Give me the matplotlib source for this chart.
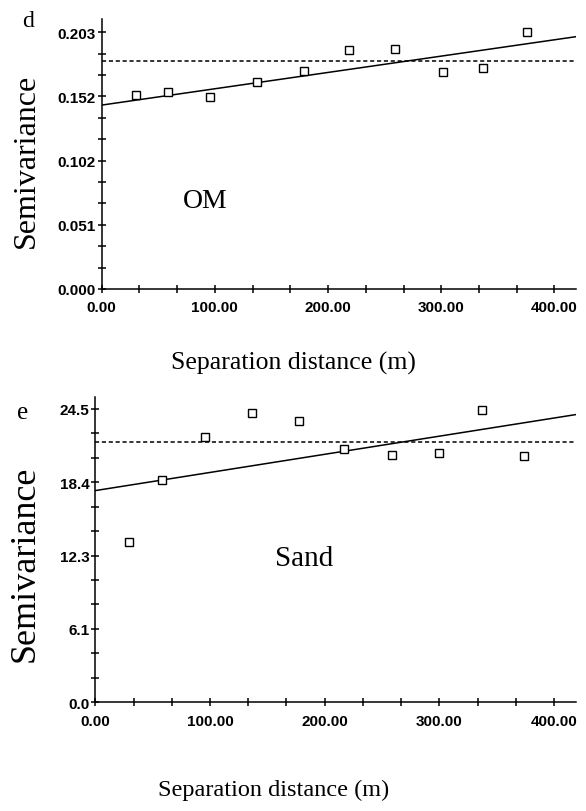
import numpy as np
import matplotlib
matplotlib.use("Agg")
import matplotlib.pyplot as plt

# lag distances (m) and semivariance values
om_lag = [30.5, 58.5, 95.8, 136.9, 178.7, 218.2, 259.3, 301.1, 337.3, 375.4]
om_gamma = [0.1532, 0.1554, 0.1517, 0.1635, 0.1725, 0.1890, 0.1900, 0.1719, 0.1748, 0.2035]
om_fit_x = [0, 419]
om_fit_y = [0.1454, 0.1995]
om_sill = 0.1803

sand_lag = [29.1, 58.5, 95.4, 136.3, 177.8, 217.0, 258.5, 300.0, 337.0, 374.0]
sand_gamma = [13.37, 18.57, 22.19, 24.17, 23.50, 21.16, 20.66, 20.80, 24.42, 20.55]
sand_fit_x = [0, 419]
sand_fit_y = [17.68, 24.03]
sand_sill = 21.72

x_ticks = [0, 100, 200, 300, 400]
x_ticklabels = ["0.00", "100.00", "200.00", "300.00", "400.00"]
om_ticklabels = ["0.000", "0.051", "0.102", "0.152", "0.203"]
sand_ticklabels = ["0.0", "6.1", "12.3", "18.4", "24.5"]

tickfont = {"family": ["Liberation Sans Narrow", "Liberation Sans"], "weight": "bold", "size": 11}
serif = ["Liberation Serif", "DejaVu Serif"]

fig = plt.figure(figsize=(5.86, 8.12), dpi=100)


def panel(rect, lag, gamma, fit_x, fit_y, sill, ytop, ymax, ylabels):
    ax = fig.add_axes(rect)
    ax.plot(fit_x, fit_y, color="black", lw=1.1)
    ax.plot([0, 419], [sill, sill], color="black", lw=1.1, dashes=(2.7, 1.8))
    ax.plot(lag, gamma, "s", ms=5.8, mfc="white", mec="black", mew=1.0, ls="none")
    ax.set_xlim(0, 419)
    ax.set_ylim(0, ymax)
    ax.spines["top"].set_visible(False)
    ax.spines["right"].set_visible(False)
    for s in ["left", "bottom"]:
        ax.spines[s].set_linewidth(1.1)
    ax.set_xticks(x_ticks)
    ax.set_xticklabels(x_ticklabels, fontdict=tickfont)
    ax.set_xticks(np.arange(0, 419, 100 / 3), minor=True)
    ax.set_yticks(np.linspace(0, ytop, 5))
    ax.set_yticklabels(ylabels, fontdict=tickfont)
    ax.set_yticks(np.linspace(0, ytop, 13), minor=True)
    ax.tick_params(axis="x", which="both", direction="inout", length=5.5, width=1.1, pad=5.5)
    ax.tick_params(axis="y", which="both", direction="inout", length=6, width=1.1, pad=1)
    return ax


ax1 = panel([0.1735, 0.6429, 0.8094, 0.3325], om_lag, om_gamma, om_fit_x, om_fit_y,
            om_sill, 0.203, 0.2135, om_ticklabels)
ax1.text(91.8, 0.0696, "OM", family=serif, fontsize=20, ha="center", va="center")

ax2 = panel([0.1626, 0.1339, 0.8203, 0.376], sand_lag, sand_gamma, sand_fit_x, sand_fit_y,
            sand_sill, 24.5, 25.5, sand_ticklabels)
ax2.text(182.3, 12.05, "Sand", family=serif, fontsize=21, ha="center", va="center")

# axis titles and panel letters
fig.text(0.0444, 0.8017, "Semivariance", family=serif, fontsize=23, rotation=90, ha="center", va="center")
fig.text(0.0437, 0.3054, "Semivariance", family=serif, fontsize=26, rotation=90, ha="center", va="center")
fig.text(0.5, 0.553, "Separation distance (m)", family=serif, fontsize=18.5, ha="center", va="center")
fig.text(0.4667, 0.0271, "Separation distance (m)", family=serif, fontsize=17.5, ha="center", va="center")
fig.text(0.0478, 0.974, "d", family=serif, fontsize=17, ha="center", va="center")
fig.text(0.0384, 0.4914, "e", family=serif, fontsize=18, ha="center", va="center")

fig.savefig("out.png", dpi=100)
